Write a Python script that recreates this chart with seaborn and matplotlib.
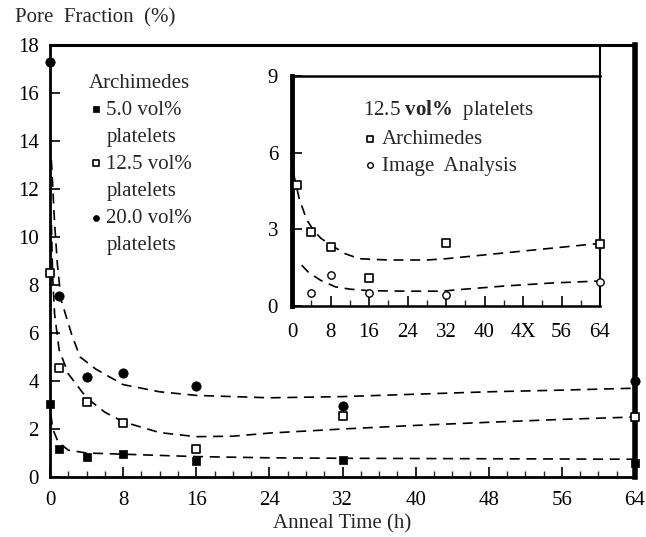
import numpy as np
import pandas as pd
import matplotlib
matplotlib.use("Agg")
import matplotlib.pyplot as plt
from matplotlib.lines import Line2D
import seaborn as sns

# ---------------- data ----------------
time_h = [0, 1, 4, 8, 16, 32, 64]
pore_5 = [3.05, 1.15, 0.85, 0.97, 0.65, 0.72, 0.6]
pore_12 = [8.5, 4.55, 3.12, 2.25, 1.15, 2.55, 2.48]
pore_20 = [17.3, 7.55, 4.17, 4.33, 3.8, 2.95, 4.0]

fit5_x = [0.1, 0.3, 0.9, 2, 4, 8, 16, 24, 32, 48, 64]
fit5_y = [2.6, 2.0, 1.45, 1.12, 1.0, 0.95, 0.85, 0.8, 0.78, 0.76, 0.74]
fit12_x = [0.15, 0.3, 0.5, 1.0, 2, 4, 6, 8, 12, 16, 20, 24, 32, 40, 48, 56, 64]
fit12_y = [10.5, 8.3, 6.8, 5.3, 4.3, 3.3, 2.7, 2.3, 1.85, 1.68, 1.7, 1.83, 2.0, 2.15, 2.28, 2.4, 2.5]
fit20_x = [0.15, 0.5, 0.8, 1.2, 2.4, 3.3, 5, 8, 12, 16, 24, 32, 40, 48, 56, 64]
fit20_y = [13.2, 10.6, 8.9, 7.4, 5.9, 5.0, 4.5, 3.85, 3.55, 3.4, 3.3, 3.35, 3.45, 3.55, 3.62, 3.7]

in_time_arch = [1, 4, 8, 16, 32, 64]
in_arch = [4.75, 2.9, 2.3, 1.1, 2.48, 2.42]
in_time_img = [4, 8, 16, 32, 64]
in_img = [0.5, 1.2, 0.5, 0.45, 0.95]
in_fitA_x = [0.3, 1.5, 3, 4.5, 6, 8, 11, 14, 20, 28, 32, 40, 48, 56, 64]
in_fitA_y = [5.2, 4.2, 3.4, 2.95, 2.65, 2.4, 2.05, 1.85, 1.8, 1.8, 1.85, 2.0, 2.15, 2.3, 2.45]
in_fitI_x = [2, 3.5, 6, 9, 12, 16, 24, 31, 36, 44, 54, 64]
in_fitI_y = [1.6, 1.3, 1.0, 0.75, 0.66, 0.6, 0.58, 0.58, 0.66, 0.78, 0.9, 0.98]

series_labels = ["5.0 vol%", "12.5 vol%", "20.0 vol%"]
main_xticks = [0, 8, 16, 24, 32, 40, 48, 56, 64]
main_yticks = [0, 2, 4, 6, 8, 10, 12, 14, 16, 18]
in_xticks = [0, 8, 16, 24, 32, 40, 48, 56, 64]
in_xlabels = ["0", "8", "16", "24", "32", "40", "4X", "56", "64"]
in_yticks = [0, 3, 6, 9]

# ---------------- style ----------------
sns.set_theme(style="white")
plt.rcParams['font.family'] = ['Liberation Serif', 'DejaVu Serif']
plt.rcParams['mathtext.fontset'] = 'custom'
plt.rcParams['mathtext.rm'] = 'Liberation Serif'
plt.rcParams['mathtext.bf'] = 'Liberation Serif:bold'

FS = 15
TFS = 15

fig = plt.figure(figsize=(6.46, 5.37), dpi=100)
ax = fig.add_axes([50/646, 1-477/537, 585/646, 432/537])

dash = (6, 4)
lw = 1.2
for fx, fy in [(fit5_x, fit5_y), (fit12_x, fit12_y), (fit20_x, fit20_y)]:
    d = pd.DataFrame({"x": fx, "y": fy})
    sns.lineplot(data=d, x="x", y="y", ax=ax, color="black", lw=lw,
                 linestyle=(0, dash), label="_nolegend_", sort=False)

d5 = pd.DataFrame({"t": time_h, "p": pore_5})
d12 = pd.DataFrame({"t": time_h, "p": pore_12})
d20 = pd.DataFrame({"t": time_h, "p": pore_20})
sns.scatterplot(data=d5, x="t", y="p", ax=ax, marker="s", s=40, color="black",
                edgecolor="black", label=series_labels[0], clip_on=False, zorder=5)
sns.scatterplot(data=d12, x="t", y="p", ax=ax, marker="s", s=30, facecolor="white",
                edgecolor="black", linewidth=1.2, label=series_labels[1],
                clip_on=False, zorder=5)
sns.scatterplot(data=d20, x="t", y="p", ax=ax, marker="o", s=45, color="black",
                edgecolor="black", label=series_labels[2], clip_on=False, zorder=5)

ax.set_xlim(0, 64)
ax.set_ylim(0, 18)
ax.set_xticks(main_xticks)
ax.set_yticks(main_yticks)
ax.set_xticks(np.arange(0, 65, 2), minor=True)
ax.tick_params(axis="both", which="major", direction="in", length=7, width=1.2,
               labelsize=TFS, colors="black")
ax.tick_params(axis="x", which="major", pad=10)
ax.tick_params(axis="y", which="major", pad=8)
ax.tick_params(axis="x", which="minor", direction="in", length=4, width=1.0)
ax.tick_params(bottom=True, left=True, which="both")
ax.set_xlabel("Anneal Time (h)", fontsize=FS, labelpad=3)
ax.set_ylabel("")
for side, w in [("left", 2.0), ("bottom", 2.0), ("top", 2.2), ("right", 4.0)]:
    ax.spines[side].set_visible(True)
    ax.spines[side].set_color("black")
    ax.spines[side].set_linewidth(w)

handles, labels = ax.get_legend_handles_labels()
h2, l2 = [], []
for h, l in zip(handles, labels):
    h2 += [h, Line2D([], [], linestyle="none", marker=None)]
    l2 += [l, "platelets"]
leg = ax.legend(h2, l2, title="Archimedes", loc="upper left",
                bbox_to_anchor=(0.052, 0.953),
                frameon=False, fontsize=FS, title_fontsize=FS, alignment="left",
                handletextpad=0.15, handlelength=0.7, labelspacing=0.36,
                borderaxespad=0)
for h in leg.legend_handles:
    if hasattr(h, "set_sizes"):
        h.set_sizes([18])

fig.text(15/646, 1-18/537, "Pore  Fraction  (%)", fontsize=FS, va="center", ha="left")

# ---------------- inset ----------------
axi = fig.add_axes([292/646, 1-306/537, 308/646, 230/537])
for fx, fy in [(in_fitA_x, in_fitA_y), (in_fitI_x, in_fitI_y)]:
    d = pd.DataFrame({"x": fx, "y": fy})
    sns.lineplot(data=d, x="x", y="y", ax=axi, color="black", lw=lw,
                 linestyle=(0, dash), label="_nolegend_", sort=False)
dA = pd.DataFrame({"t": in_time_arch, "p": in_arch})
dI = pd.DataFrame({"t": in_time_img, "p": in_img})
sns.scatterplot(data=dA, x="t", y="p", ax=axi, marker="s", s=28, facecolor="white",
                edgecolor="black", linewidth=1.2, label="Archimedes", clip_on=False, zorder=5)
sns.scatterplot(data=dI, x="t", y="p", ax=axi, marker="o", s=28, facecolor="white",
                edgecolor="black", linewidth=1.0, label="Image  Analysis", clip_on=False, zorder=5)
axi.set_xlim(0, 64)
axi.set_ylim(0, 9)
axi.set_xticks(in_xticks)
axi.set_xticklabels(in_xlabels)
axi.set_yticks(in_yticks)
axi.set_xticks(np.arange(0, 65, 4), minor=True)
axi.tick_params(axis="both", which="major", direction="in", length=7, width=1.2,
                labelsize=TFS, colors="black", pad=10)
axi.tick_params(axis="x", which="major", pad=12)
axi.tick_params(axis="x", which="minor", direction="in", length=4, width=1.0)
axi.tick_params(bottom=True, left=True, which="both")
axi.set_xlabel("")
axi.set_ylabel("")
axi.patch.set_facecolor("white")
for side, w in [("left", 3.5), ("bottom", 1.8), ("top", 1.8), ("right", 1.5)]:
    axi.spines[side].set_visible(True)
    axi.spines[side].set_color("black")
    axi.spines[side].set_linewidth(w)
# right border of inset continues up to main frame
axi.plot([1, 1], [1, (306-45)/230], transform=axi.transAxes, color="black",
         lw=1.5, clip_on=False)

legi = axi.legend(title=r"12.5 $\mathbf{vol\%}$  platelets", loc="upper left",
                  bbox_to_anchor=(0.205, 0.94), frameon=False, fontsize=FS,
                  title_fontsize=FS, alignment="left", handletextpad=0.3,
                  handlelength=0.6, labelspacing=0.35, borderaxespad=0)
for h in legi.legend_handles:
    h.set_sizes([16])

fig.savefig("out.png", dpi=100)
